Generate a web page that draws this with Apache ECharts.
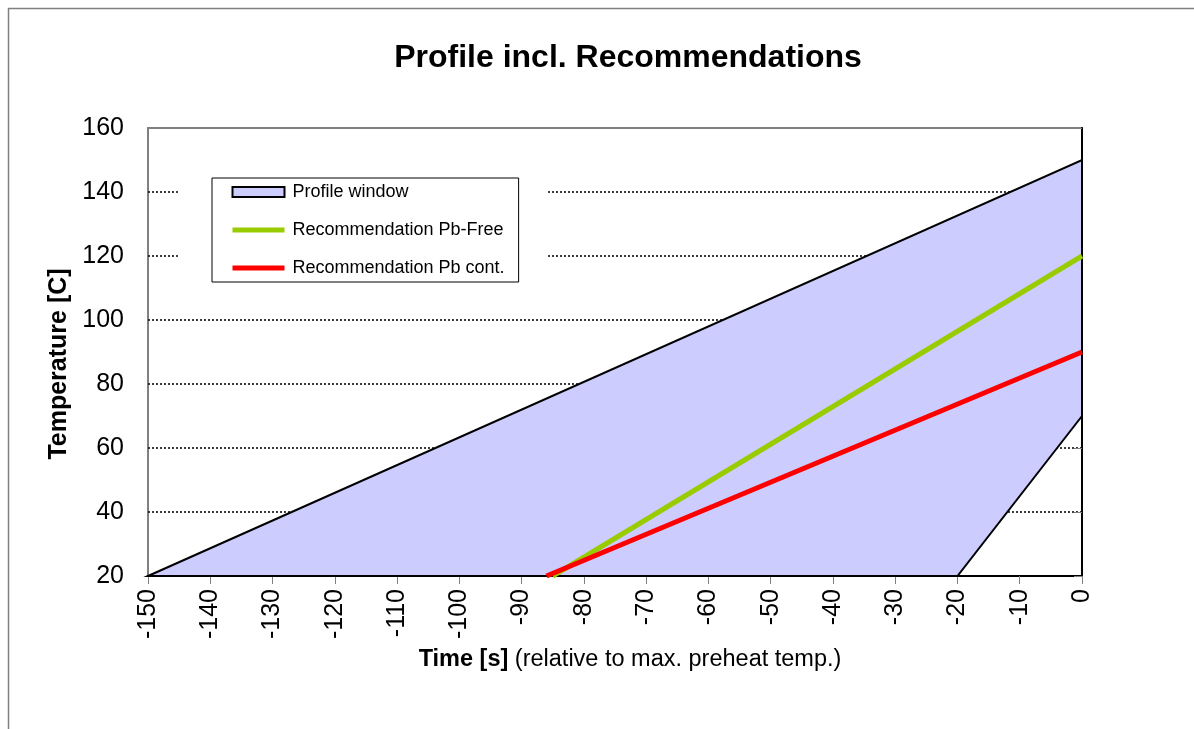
<!DOCTYPE html>
<html>
<head>
<meta charset="utf-8">
<script src="https://cdn.jsdelivr.net/npm/echarts@6/dist/echarts.min.js"></script>
<style>
  html, body { margin: 0; padding: 0; background: #fff; }
  #main { width: 1194px; height: 729px; }
</style>
</head>
<body>
<div id="main"></div>
<script>
  // profile window outline (time s, temperature C)
  var windowPoints = [[-150, 20], [0, 150], [0, 70], [-20, 20]];
  var pbFree = [[-85, 20], [0, 120]];
  var pbCont = [[-86, 20], [0, 90]];
  var xTicks = { min: -150, max: 0, step: 10 };
  var yTicks = { min: 20, max: 160, step: 20 };

  var myChart = echarts.init(document.getElementById('main'));
  var font = 'Liberation Sans, Arial, sans-serif';
  var hideDot = { color: 'rgba(0,0,0,0)', borderColor: 'rgba(0,0,0,0)', borderWidth: 0 };

  var option = {
    backgroundColor: '#fff',
    animation: false,
    title: {
      text: 'Profile incl. Recommendations',
      left: 623,
      top: 37,
      textAlign: 'center',
      textStyle: { fontFamily: font, fontSize: 32, fontWeight: 'bold', color: '#000' }
    },
    graphic: [
      { type: 'rect', z: 0, silent: true,
        shape: { x: 8.5, y: 8.5, width: 1300, height: 900 },
        style: { fill: null, stroke: '#808080', lineWidth: 1.5 } },
      { type: 'rect', z: 1, silent: true,
        shape: { x: 179, y: 172, width: 367, height: 118 },
        style: { fill: '#fff' } }
    ],
    legend: {
      orient: 'vertical',
      left: 212,
      top: 178,
      padding: [5, 14, 5, 18],
      itemGap: 20,
      itemWidth: 52,
      itemHeight: 10,
      backgroundColor: '#fff',
      borderColor: '#000',
      borderWidth: 1,
      textStyle: { fontFamily: font, fontSize: 18, color: '#000', padding: [0, 0, 0, 3] },
      data: [
        { name: 'Profile window', icon: 'rect',
          itemStyle: { color: '#CCCCFF', borderColor: '#000', borderWidth: 2 } },
        { name: 'Recommendation Pb-Free', itemStyle: hideDot,
          lineStyle: { color: '#99CC00', width: 5 } },
        { name: 'Recommendation Pb cont.', itemStyle: hideDot,
          lineStyle: { color: '#FF0000', width: 5 } }
      ]
    },
    grid: { left: 148, right: 112, top: 128, bottom: 153, show: true,
      borderColor: '#808080', borderWidth: 2, backgroundColor: '#fff' },
    xAxis: {
      type: 'value',
      min: xTicks.min, max: xTicks.max, interval: xTicks.step,
      name: '{b|Time [s]} (relative to max. preheat temp.)',
      nameLocation: 'middle',
      nameGap: 72,
      nameTextStyle: { fontFamily: font, fontSize: 23.5, color: '#000', padding: [0, 0, 0, 30],
        rich: { b: { fontFamily: font, fontSize: 23.5, fontWeight: 'bold', color: '#000' } } },
      axisLine: { show: true, lineStyle: { color: '#000', width: 2 } },
      axisTick: { show: true, length: 8, lineStyle: { color: '#808080', width: 1 } },
      axisLabel: { rotate: 90, margin: 13, fontFamily: font, fontSize: 25, color: '#000' },
      splitLine: { show: false }
    },
    yAxis: {
      type: 'value',
      min: yTicks.min, max: yTicks.max, interval: yTicks.step,
      name: 'Temperature [C]',
      nameLocation: 'middle',
      nameGap: 70,
      nameTextStyle: { fontFamily: font, fontSize: 25, fontWeight: 'bold', color: '#000', padding: [0, 24, 0, 0] },
      axisLine: { show: true, lineStyle: { color: '#000', width: 2 } },
      axisTick: { show: true, length: 8, lineStyle: { color: '#808080', width: 1 } },
      axisLabel: { margin: 24, fontFamily: font, fontSize: 25, color: '#000' },
      splitLine: { show: true, showMinLine: false, showMaxLine: false,
        lineStyle: { color: '#000', width: 1.5, type: [2, 2] } }
    },
    series: [
      {
        name: 'Profile window',
        type: 'custom',
        z: 2,
        data: [0],
        renderItem: function (params, api) {
          var pts = windowPoints.map(function (p) { return api.coord(p); });
          return {
            type: 'polygon',
            shape: { points: pts },
            style: { fill: '#CCCCFF', stroke: '#000', lineWidth: 2 }
          };
        },
        itemStyle: { color: '#CCCCFF', borderColor: '#000', borderWidth: 2 }
      },
      {
        name: 'Recommendation Pb-Free',
        type: 'line',
        z: 3,
        data: pbFree,
        symbol: 'none',
        color: '#99CC00',
        lineStyle: { color: '#99CC00', width: 5 }
      },
      {
        name: 'Recommendation Pb cont.',
        type: 'line',
        z: 4,
        data: pbCont,
        symbol: 'none',
        color: '#FF0000',
        lineStyle: { color: '#FF0000', width: 5 }
      }
    ]
  };
  myChart.setOption(option);
</script>
</body>
</html>
